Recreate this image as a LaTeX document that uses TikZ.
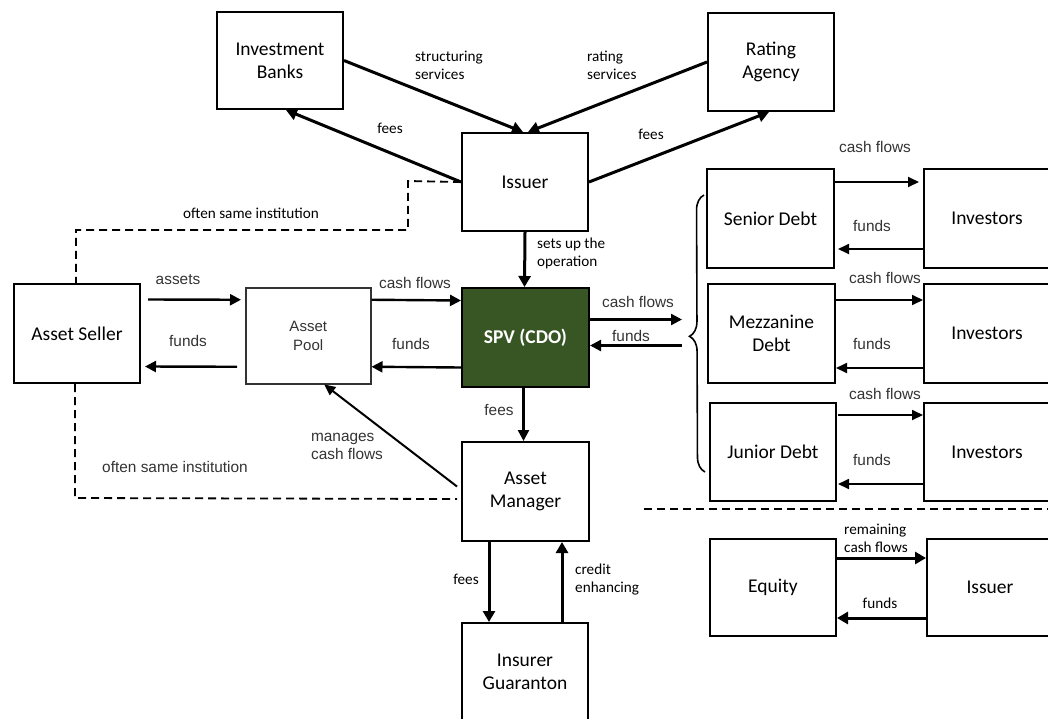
\documentclass[tikz,border=0pt]{standalone}
\usepackage{fontspec}
\setmainfont{Carlito}
\newfontfamily\arialf{Liberation Sans}
\usetikzlibrary{arrows.meta,calc,decorations.pathreplacing}
\definecolor{spvgreen}{HTML}{375623}
\definecolor{labelgray}{HTML}{333333}
\begin{document}
\begin{tikzpicture}[x=1pt,y=-1pt,
  box/.style={draw, line width=2pt, fill=white, anchor=north west, align=center,
    inner sep=0pt, minimum width=126pt, minimum height=98pt,
    font=\fontsize{19.5}{23}\selectfont},
  thinbox/.style={box, line width=1.5pt, draw=black!80, text=labelgray,
    font=\arialf\fontsize{15}{19}\selectfont},
  spvbox/.style={box, fill=spvgreen, text=white, font=\bfseries\fontsize{19.5}{23}\selectfont},
  arr/.style={line width=3pt, -{Triangle[length=11pt,width=12pt]}},
  arrb/.style={line width=2.4pt, -{Triangle[length=11pt,width=11pt]}},
  arrt/.style={line width=1.8pt, -{Triangle[length=11pt,width=10pt]}},
  lbl/.style={font=\fontsize{15.2}{18}\selectfont, align=left, inner sep=0pt},
  albl/.style={font=\arialf\fontsize{15.4}{18}\selectfont, text=labelgray, align=left, inner sep=0pt},
  dashline/.style={line width=1.8pt, dash pattern=on 8pt off 5pt},
]
\useasboundingbox (0,0) rectangle (1048,718);
\clip (0,0) rectangle (1048,718);

% upper tier
\node[box, minimum height=97pt] (ib) at (216,11) {Investment\\Banks};
\node[box] (ra) at (707,12) {Rating\\Agency};
\node[box, minimum height=98pt] (iss) at (461,132) {Issuer};

% main line
\node[box, minimum height=99pt] (seller) at (13,283) {Asset Seller};
\node[thinbox, minimum width=125pt, minimum height=96pt] (pool) at (245,287) {Asset\\Pool};
\node[spvbox, minimum width=127pt, minimum height=99pt] (spv) at (461,287) {SPV (CDO)};
\node[box, minimum width=127pt, minimum height=99pt] (am) at (461,441) {Asset\\Manager};
\node[box, minimum height=110pt] (ins) at (461,622) {\\[-28pt]Insurer\\Guaranton};

% tranches
\node[box, minimum width=127pt, minimum height=99pt] (sen) at (706,168) {Senior Debt};
\node[box, minimum height=99pt] (inv1) at (923,168) {Investors};
\node[box, minimum width=127pt, minimum height=99pt] (mez) at (707,283) {Mezzanine\\Debt};
\node[box, minimum height=99pt] (inv2) at (923,283) {Investors};
\node[box, minimum height=98pt] (jun) at (709,402) {Junior Debt};
\node[box, minimum height=98pt] (inv3) at (923,402) {Investors};
\node[box, minimum height=97pt] (eq) at (709,538) {Equity};
\node[box, minimum height=97pt] (iss2) at (926,538) {Issuer};

% services and fees around the issuer
\draw[arr] (ib.east) -- ($(iss.north)+(-2,0)$);
\draw[arr] (ra.west) -- ($(iss.north)+(3,0)$);
\draw[arr] (iss.west) -- ($(ib.south)+(6,0)$);
\draw[arr] (iss.east) -- ($(ra.south)+(-2,0)$);
\node[lbl, anchor=west] at (415,65) {structuring\\services};
\node[lbl, anchor=west] at (587,65) {rating\\services};
\node[lbl] at (390,128) {fees};
\node[lbl] at (651,134) {fees};

% issuer sets up the SPV
\draw[arr] (iss.south) -- ($(spv.north)+(-1,0)$);
\node[lbl, anchor=west] at (537,253) {sets up the\\operation};

% asset seller and pool
\draw[arrb] ($(seller.east)+(7,-34)$) -- ($(pool.west)+(-4,-36)$);
\draw[arrb] ($(pool.west)+(-8,31)$) -- ($(seller.east)+(4,33)$);
\node[albl] at (178,280) {assets};
\node[albl] at (188,341) {funds};
\draw[arrb] ($(pool.east)+(0,-36)$) -- ($(spv.west)+(0,-37)$);
\draw[arrb] ($(spv.west)+(0,30)$) -- ($(pool.east)+(0,31)$);
\node[albl] at (415,283) {cash flows};
\node[albl] at (411,344) {funds};

% SPV to the tranches
\draw[arrb] ($(spv.east)+(0,-18)$) -- ++(92,0) coordinate (cfend);
\draw[arrb] ($(spv.east)+(92,8)$) coordinate (fdstart) -- ($(spv.east)+(0,8)$);
\node[albl] at (638,302) {cash flows};
\node[albl] at (631,336) {funds};
\draw[line width=1.6pt, decorate, decoration={brace, amplitude=15pt, aspect=0.49}]
  ($(jun.north west)+(-4,70)$) -- ($(sen.north west)+(-2,27)$);

% fees to the asset manager, management of the pool
\draw[arrb] ($(spv.south)+(-2,0)$) -- ($(am.north)+(-2,0)$);
\node[albl] at (499,410) {fees};
\draw[line width=2pt, -{Triangle[length=11pt,width=10pt]}] ($(am.west)+(-4,-5)$) -- ($(pool.south)+(16,0)$);
\node[albl] at (347,446) {manages\\cash flows};

% guarantee
\draw[arr] ($(am.south west)+(28,0)$) -- ($(ins.north west)+(28,0)$);
\draw[arr] ($(ins.north west)+(101,0)$) -- ($(am.south west)+(101,0)$);
\node[lbl] at (466,579) {fees};
\node[lbl, anchor=west] at (575,580) {credit\\enhancing};

% same-institution links
\coordinate (ua) at (408,181);
\coordinate (ub) at (408,230);
\coordinate (uc) at (76,230);
\draw[dashline] (iss.west) -- (ua) -- (ub) -- (uc) -- (seller.north -| uc);
\node[lbl] at (251,213) {often same institution};
\coordinate (la) at (75,498);
\draw[dashline] (seller.south -| la) -- (la) -- ($(am.west)+(-4,7.5)$);
\node[albl] at (175,467) {often same institution};

% tranche flows
\draw[arrt] ($(sen.north east)+(0,14)$) -- ($(inv1.north west)+(-4,14)$);
\draw[arrt] ($(inv1.south west)+(0,-20)$) -- ($(sen.south east)+(3,-20)$);
\node[albl] at (875,147) {cash flows};
\node[albl] at (872,226) {funds};
\draw[arrt] ($(mez.north east)+(0,17)$) -- ($(inv2.north west)+(0,17)$);
\draw[arrt] ($(inv2.south west)+(0,-16)$) -- ($(mez.south east)+(0,-16)$);
\node[albl] at (885,278) {cash flows};
\node[albl] at (872,344) {funds};
\draw[arrt] ($(jun.north east)+(1,13)$) -- ($(inv3.north west)+(0,13)$);
\draw[arrt] ($(inv3.south west)+(0,-18)$) -- ($(jun.south east)+(1,-18)$);
\node[albl] at (885,394) {cash flows};
\node[albl] at (872,460) {funds};

% equity tier
\coordinate (ha) at (644,509);
\draw[dashline] (ha) -- (1048,509);
\draw[arr] ($(eq.north east)+(0,20)$) -- ($(iss2.north west)+(0,20)$);
\draw[arr] ($(iss2.south west)+(0,-19)$) -- ($(eq.south east)+(0,-19)$);
\node[lbl] at (876,538) {remaining\\cash flows};
\node[lbl] at (880,603) {funds};
\end{tikzpicture}
\end{document}
